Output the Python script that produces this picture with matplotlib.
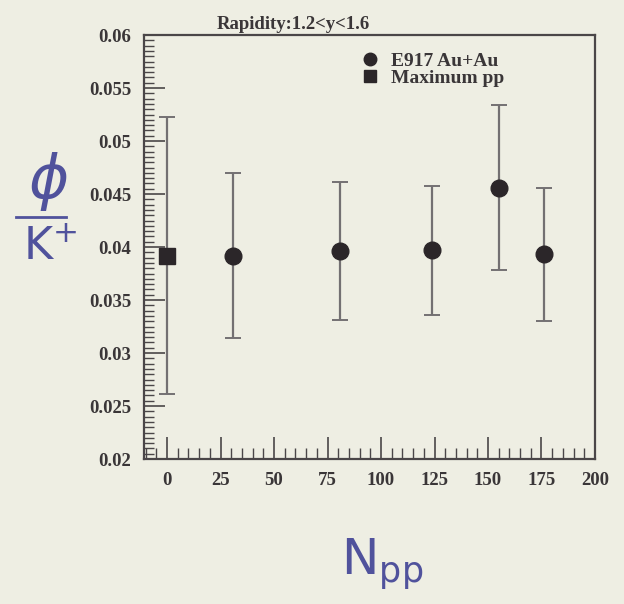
import matplotlib
matplotlib.use("Agg")
import matplotlib.pyplot as plt
from matplotlib.lines import Line2D
from matplotlib.ticker import MultipleLocator, FixedLocator, FixedFormatter

# E917 Au+Au phi/K+ ratio vs number of participants
npp_auau = [31, 81, 124, 155, 176]
ratio_auau = [0.0392, 0.0396, 0.0397, 0.0456, 0.0393]
err_auau = [0.0078, 0.0065, 0.0061, 0.0078, 0.0063]

# Maximum p+p reference
npp_pp = [0]
ratio_pp = [0.0392]
err_pp = [0.0131]

xticks = [0, 25, 50, 75, 100, 125, 150, 175, 200]
yticks = [0.02, 0.025, 0.03, 0.035, 0.04, 0.045, 0.05, 0.055, 0.06]
ytick_labels = ["0.02", "0.025", "0.03", "0.035", "0.04", "0.045", "0.05", "0.055", "0.06"]

paper = "#eeeee3"
ink = "#2b2629"
pen = "#50529c"

fig = plt.figure(figsize=(6.24, 6.04), dpi=100, facecolor=paper)
ax = fig.add_axes([0.230, 0.240, 0.7235, 0.702])
ax.set_facecolor(paper)

ax.errorbar(npp_auau, ratio_auau, yerr=err_auau, fmt="o", ms=12, color=ink,
            ecolor="#737072", elinewidth=1.6, capsize=6, capthick=1.4, zorder=3)
ax.errorbar(npp_pp, ratio_pp, yerr=err_pp, fmt="s", ms=11, color=ink,
            ecolor="#737072", elinewidth=1.6, capsize=6, capthick=1.4, zorder=3)

ax.set_xlim(-11, 200)
ax.set_ylim(0.02, 0.06)

ax.xaxis.set_major_locator(FixedLocator(xticks))
ax.xaxis.set_minor_locator(MultipleLocator(5))
ax.yaxis.set_major_locator(FixedLocator(yticks))
ax.yaxis.set_major_formatter(FixedFormatter(ytick_labels))
ax.yaxis.set_minor_locator(MultipleLocator(0.0005))

serif = "Liberation Serif"
ax.tick_params(axis="both", which="both", direction="in", colors="#4a4648",
               top=False, right=False)
ax.tick_params(axis="x", which="major", length=16, width=1.2, pad=9)
ax.tick_params(axis="x", which="minor", length=8, width=1.0)
ax.tick_params(axis="y", which="major", length=15, width=1.2, pad=9)
ax.tick_params(axis="y", which="minor", length=7, width=1.0)
for lab in ax.get_xticklabels() + ax.get_yticklabels():
    lab.set_fontfamily(serif)
    lab.set_fontweight("bold")
    lab.set_fontsize(13.5)
    lab.set_color("#3a3638")

for sp in ax.spines.values():
    sp.set_color("#4a4648")
    sp.set_linewidth(1.6)

ax.text(0.331, 1.004, "Rapidity:1.2<y<1.6", transform=ax.transAxes,
        ha="center", va="bottom", fontsize=13.5, fontfamily=serif,
        fontweight="bold", color="#3a3638")

handles = [
    Line2D([], [], ls="none", marker="o", ms=9, color=ink, label="E917 Au+Au"),
    Line2D([], [], ls="none", marker="s", ms=9, color=ink, label="Maximum pp"),
]
leg = ax.legend(handles=handles, loc="upper left", bbox_to_anchor=(0.452, 0.99),
                frameon=False, handletextpad=0.6, labelspacing=0.0,
                borderaxespad=0.25, handlelength=1.0,
                prop={"family": serif, "weight": "bold", "size": 14})
for t in leg.get_texts():
    t.set_color("#3a3638")

# axis labels in pen
fig.text(0.077, 0.70, r"$\phi$", fontsize=44, color=pen, ha="center", va="center")
fig.add_artist(Line2D([0.025, 0.105], [0.640, 0.640], color=pen, lw=2.0,
                      transform=fig.transFigure))
fig.text(0.080, 0.590, r"K$^{+}$", fontsize=32, color=pen, ha="center", va="center",
         fontfamily="DejaVu Sans")
fig.text(0.612, 0.066, r"N$_{\mathrm{pp}}$", fontsize=36, color=pen, ha="center",
         va="center", fontfamily="DejaVu Sans")

fig.savefig("out.png", dpi=100, facecolor=paper)
